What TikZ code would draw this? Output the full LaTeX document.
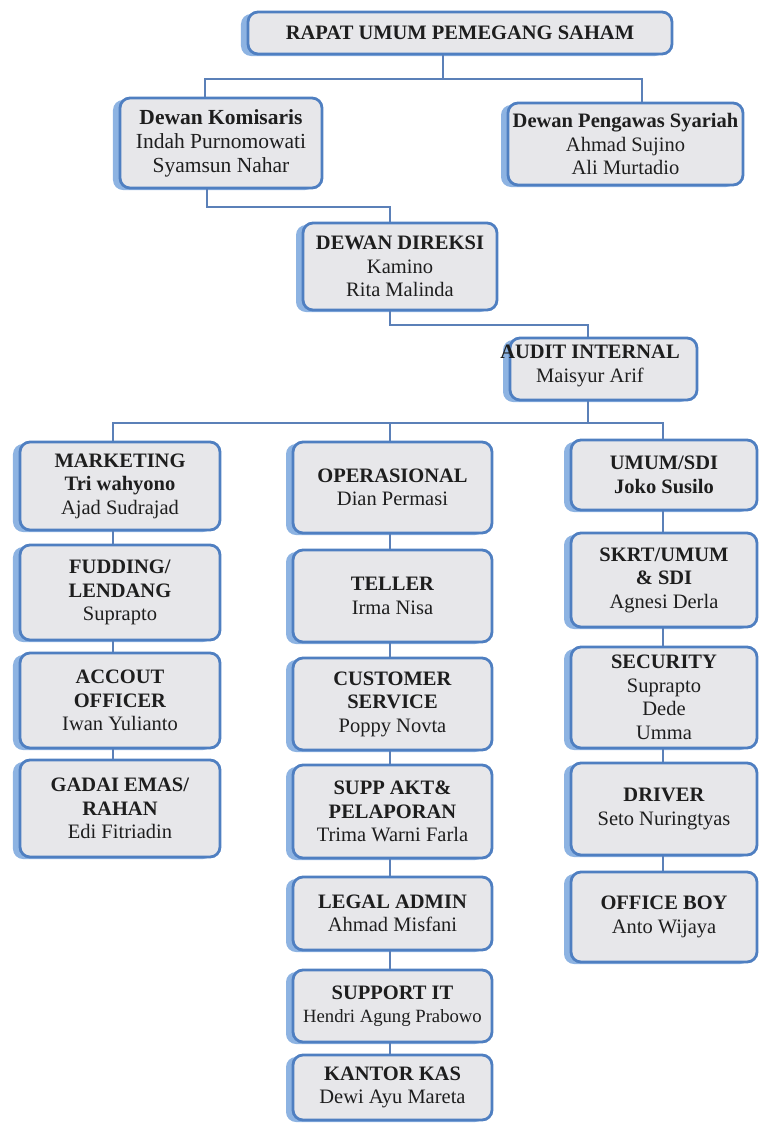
\documentclass[tikz,border=0pt]{standalone}
\usepackage{fontspec}
\setmainfont{Liberation Serif}
\usetikzlibrary{shadows}
\definecolor{boxfill}{HTML}{E7E7EA}
\definecolor{boxline}{HTML}{4F7FC1}
\definecolor{boxshade}{HTML}{8DB3E2}
\definecolor{conncol}{HTML}{5B80B8}
\definecolor{txt}{HTML}{1E1E1E}
\tikzset{
  orgbox/.style={draw=boxline, line width=2.8bp, fill=boxfill, rounded corners=10bp,
    align=center, inner sep=2bp, text=txt, font=\fontsize{20.5bp}{23.5bp}\selectfont,
    general shadow={fill=boxshade, shadow xshift=-7bp, shadow yshift=-2bp}},
  plaintext/.style={align=center, inner sep=0pt, text=txt, font=\fontsize{20.5bp}{23.5bp}\selectfont},
  conn/.style={draw=conncol, line width=2bp},
  lcol/.style={orgbox, minimum width=200bp},
  mcol/.style={orgbox, minimum width=199bp},
  rcol/.style={orgbox, minimum width=186bp},
}
\begin{document}
\begin{tikzpicture}[x=1bp,y=-1bp]
\useasboundingbox (0,0) rectangle (759,1124);
% top levels
\node[orgbox, minimum width=424bp, minimum height=42bp] (rups) at (460,33) {\textbf{RAPAT UMUM PEMEGANG SAHAM}};
\node[orgbox, minimum width=202bp, minimum height=90bp, font=\fontsize{21.5bp}{24bp}\selectfont] (komi) at (221,143) {\textbf{Dewan Komisaris}\\Indah Purnomowati\\Syamsun Nahar};
\node[orgbox, minimum width=235bp, minimum height=82bp] (dps) at (625.5,144) {\textbf{Dewan Pengawas Syariah}\\Ahmad Sujino\\Ali Murtadio};
\node[orgbox, minimum width=194bp, minimum height=87bp] (dd) at (400,266.5) {\textbf{DEWAN DIREKSI}\\Kamino\\Rita Malinda};
\node[orgbox, minimum width=187bp, minimum height=62bp] (audit) at (603.5,369) {};
\node[plaintext] (audittxt) at (590,366) {\textbf{AUDIT INTERNAL}\\Maisyur Arif};
% left column
\node[lcol, minimum height=88bp] (mkt) at (120,486) {\textbf{MARKETING}\\\textbf{Tri wahyono}\\Ajad Sudrajad};
\node[lcol, minimum height=95bp] (fud) at (120,592.5) {\textbf{FUDDING/}\\\textbf{LENDANG}\\Suprapto};
\node[lcol, minimum height=95bp] (ao) at (120,700.5) {\textbf{ACCOUT}\\\textbf{OFFICER}\\Iwan Yulianto};
\node[lcol, minimum height=97bp] (gadai) at (120,808.5) {\textbf{GADAI EMAS/}\\\textbf{RAHAN}\\Edi Fitriadin};
% middle column
\node[mcol, minimum height=91bp] (ops) at (392.5,487.5) {\textbf{OPERASIONAL}\\Dian Permasi};
\node[mcol, minimum height=92bp] (tel) at (392.5,596) {\textbf{TELLER}\\Irma Nisa};
\node[mcol, minimum height=92bp] (cs) at (392.5,704) {\textbf{CUSTOMER}\\\textbf{SERVICE}\\Poppy Novta};
\node[mcol, minimum height=93bp] (supp) at (392.5,811.5) {\textbf{SUPP AKT\&}\\\textbf{PELAPORAN}\\Trima Warni Farla};
\node[mcol, minimum height=73bp] (legal) at (392.5,913.5) {\textbf{LEGAL ADMIN}\\Ahmad Misfani};
\node[mcol, minimum height=72bp] (sit) at (392.5,1006) {\textbf{SUPPORT IT}\\{\fontsize{18.7bp}{23.5bp}\selectfont Hendri Agung Prabowo}};
\node[mcol, minimum height=65bp] (kas) at (392.5,1087.5) {\textbf{KANTOR KAS}\\Dewi Ayu Mareta};
% right column
\node[rcol, minimum height=70bp] (umum) at (664,475) {\textbf{UMUM/SDI}\\\textbf{Joko Susilo}};
\node[rcol, minimum height=94bp] (skrt) at (664,580) {\textbf{SKRT/UMUM}\\\textbf{\& SDI}\\Agnesi Derla};
\node[rcol, minimum height=101bp] (sec) at (664,697.5) {\textbf{SECURITY}\\Suprapto\\Dede\\Umma};
\node[rcol, minimum height=92bp] (drv) at (664,809) {\textbf{DRIVER}\\Seto Nuringtyas};
\node[rcol, minimum height=90bp] (ob) at (664,917) {\textbf{OFFICE BOY}\\Anto Wijaya};
% connectors
\draw[conn] (rups.south -| 443,0) -- (443,79) -| (komi.north -| 205,0);
\draw[conn] (443,79) -| (dps.north -| 642,0);
\draw[conn] (komi.south -| 207,0) -- (207,207) -| (dd.north -| 390,0);
\draw[conn] (dd.south -| 390,0) -- (390,325) -| (audit.north -| 588,0);
\draw[conn] (audit.south -| 588,0) -- (588,423) -| (mkt.north -| 113,0);
\draw[conn] (588,423) -| (umum.north -| 663,0);
\draw[conn] (390,423) -- (ops.north -| 390,0);
\draw[conn] (mkt.south -| 113,0) -- (fud.north -| 113,0);
\draw[conn] (fud.south -| 113,0) -- (ao.north -| 113,0);
\draw[conn] (ao.south -| 113,0) -- (gadai.north -| 113,0);
\draw[conn] (ops.south -| 390,0) -- (tel.north -| 390,0);
\draw[conn] (tel.south -| 390,0) -- (cs.north -| 390,0);
\draw[conn] (cs.south -| 390,0) -- (supp.north -| 390,0);
\draw[conn] (supp.south -| 390,0) -- (legal.north -| 390,0);
\draw[conn] (legal.south -| 390,0) -- (sit.north -| 390,0);
\draw[conn] (sit.south -| 390,0) -- (kas.north -| 390,0);
\draw[conn] (umum.south -| 663,0) -- (skrt.north -| 663,0);
\draw[conn] (skrt.south -| 663,0) -- (sec.north -| 663,0);
\draw[conn] (sec.south -| 663,0) -- (drv.north -| 663,0);
\draw[conn] (drv.south -| 663,0) -- (ob.north -| 663,0);
\end{tikzpicture}
\end{document}
